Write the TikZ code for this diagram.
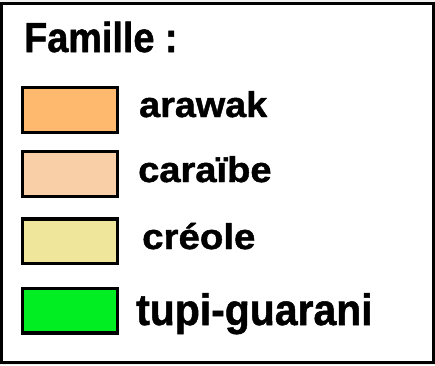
\documentclass[tikz,border=0pt]{standalone}
\usepackage{fontspec}
\setmainfont{Liberation Sans}[BoldFeatures={FakeBold=1.2}]
\usepackage{graphicx}
\usetikzlibrary{positioning}

\definecolor{arawakcol}{HTML}{FFB96E}
\definecolor{caraibecol}{HTML}{F8CFA6}
\definecolor{creolecol}{HTML}{EFE69C}
\definecolor{tupicol}{HTML}{00EE22}

\begin{document}
\begin{tikzpicture}[x=1pt,y=-1pt,
swatch/.style={draw,rectangle,line width=3.3pt,minimum width=94.7pt,minimum height=44.7pt,inner sep=0pt},
famlabel/.style={anchor=base west,inner sep=0pt,font=\bfseries\fontsize{34}{40}\selectfont}]
\useasboundingbox (0,0) rectangle (435,365);
\fill[gray!12] (0,0) rectangle (435,365);
\draw[line width=3pt,fill=white] (1.4,3.5) rectangle (433,362.7);

\node (title) [anchor=base west,inner sep=0pt,font=\bfseries\fontsize{42}{48}\selectfont]
    at (24,52) {\scalebox{0.9}[1]{Famille :}};

\node (arawakbox) [swatch,fill=arawakcol] at (70,110) {};
\node (caraibebox) [swatch,fill=caraibecol] at (70,174) {};
\node (creolebox) [swatch,fill=creolecol] at (70,241.2) {};
\node (tupibox) [swatch,fill=tupicol] at (70,310.5) {};

\node (arawak) [famlabel] at (139,117) {\scalebox{1.11}[1.05]{arawak}};
\node (caraibe) [famlabel] at (138,182) {\scalebox{1.12}[1.05]{caraïbe}};
\node (creole) [famlabel] at (142,249) {\scalebox{1.13}[1.05]{créole}};
\node (tupi) [famlabel,font=\bfseries\fontsize{44}{50}\selectfont]
    at (136,325) {\scalebox{0.93}[1]{tupi-guarani}};

\end{tikzpicture}
\end{document}
